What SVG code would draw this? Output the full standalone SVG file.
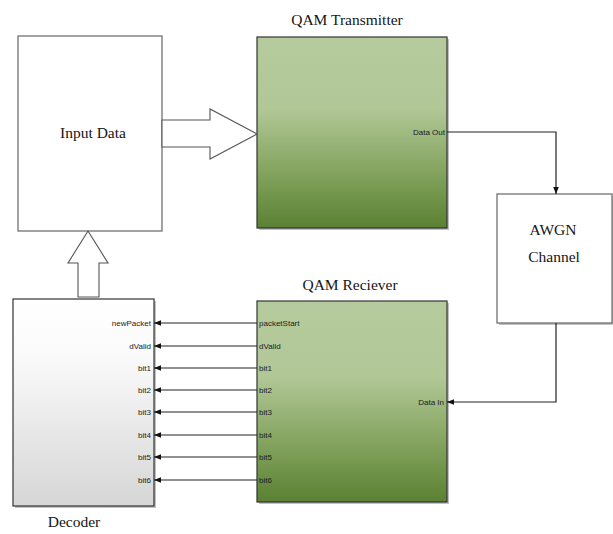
<svg xmlns="http://www.w3.org/2000/svg" width="613" height="534" viewBox="0 0 613 534">
  <defs>
    <linearGradient id="green" x1="0" y1="0" x2="0" y2="1">
      <stop offset="0" stop-color="#b6cb9d"/>
      <stop offset="0.38" stop-color="#b1c796"/>
      <stop offset="0.7" stop-color="#84a45f"/>
      <stop offset="1" stop-color="#5a8133"/>
    </linearGradient>
    <linearGradient id="grey" x1="0" y1="0" x2="0" y2="1">
      <stop offset="0" stop-color="#ffffff"/>
      <stop offset="0.25" stop-color="#fbfbfb"/>
      <stop offset="1" stop-color="#d6d6d6"/>
    </linearGradient>
    <marker id="arrDown" viewBox="0 0 10 10" refX="10" refY="5" markerWidth="7" markerHeight="7" orient="auto" markerUnits="userSpaceOnUse">
      <path d="M0,1 L10,5 L0,9 z" fill="#111"/>
    </marker>
  </defs>
  <style>
    .title { font-family: "Liberation Serif", "Times New Roman", serif; font-size: 15.5px; fill: #151515; }
    .port { font-family: "Liberation Sans", Arial, sans-serif; font-size: 8px; fill: #1a1a1a; }
    .plain { fill: #fff; stroke: #666; stroke-width: 1.2; }
    .block { stroke: #333; stroke-width: 1.2; }
    .shadow { fill: #9a9a9a; opacity: 0.6; }
    .wire { stroke: #222; stroke-width: 1.2; fill: none; }
    .fat { fill: #fff; stroke: #555; stroke-width: 1.1; }
  </style>

  <rect width="613" height="534" fill="#fff"/>

  <!-- Input Data source -->
  <g id="input-data">
    <rect class="plain" x="18" y="36" width="144" height="195"/>
    <text class="title" x="93" y="138" text-anchor="middle">Input Data</text>
  </g>

  <!-- Transmitter block -->
  <g id="qam-transmitter">
    <text class="title" x="347" y="25" text-anchor="middle">QAM Transmitter</text>
    <rect class="shadow" x="259" y="39" width="190" height="191"/>
    <rect class="block" x="257" y="37" width="190" height="191" fill="url(#green)"/>
    <text class="port" x="445" y="135" text-anchor="end">Data Out</text>
  </g>

  <!-- Channel model -->
  <g id="awgn-channel">
    <rect class="shadow" x="499" y="196" width="115" height="129"/>
    <rect class="plain" x="497" y="194" width="115" height="129" stroke="#444"/>
    <text class="title" x="553" y="235" text-anchor="middle">AWGN</text>
    <text class="title" x="554" y="262" text-anchor="middle">Channel</text>
  </g>

  <!-- Receiver block -->
  <g id="qam-receiver">
    <text class="title" x="350" y="290" text-anchor="middle">QAM Reciever</text>
    <rect class="shadow" x="259" y="303" width="190" height="201"/>
    <rect class="block" x="257" y="301" width="190" height="201" fill="url(#green)"/>
    <g class="port">
      <text x="259" y="326">packetStart</text>
      <text x="259" y="349">dValid</text>
      <text x="259" y="371">bit1</text>
      <text x="259" y="393">bit2</text>
      <text x="259" y="415">bit3</text>
      <text x="259" y="438">bit4</text>
      <text x="259" y="460">bit5</text>
      <text x="259" y="483">bit6</text>
      <text x="444" y="405" text-anchor="end">Data In</text>
    </g>
  </g>

  <!-- Decoder block -->
  <g id="decoder">
    <rect class="shadow" x="15" y="301" width="141" height="207"/>
    <rect class="block" x="13" y="299" width="141" height="207" fill="url(#grey)"/>
    <g class="port" text-anchor="end">
      <text x="151" y="326">newPacket</text>
      <text x="151" y="349">dValid</text>
      <text x="151" y="371">bit1</text>
      <text x="151" y="393">bit2</text>
      <text x="151" y="415">bit3</text>
      <text x="151" y="438">bit4</text>
      <text x="151" y="460">bit5</text>
      <text x="151" y="483">bit6</text>
    </g>
    <text class="title" x="74" y="527" text-anchor="middle">Decoder</text>
  </g>

  <!-- Connectors -->
  <g id="connectors">
    <polygon class="fat" points="162,120 210,120 210,109 257,134 210,159 210,147 162,147"/>
    <polygon class="fat" points="78,297 78,263 68,263 88,231 108,263 99,263 99,297"/>
    <path class="wire" d="M447,132 H556 V194" marker-end="url(#arrDown)"/>
    <path class="wire" d="M556,323 V402 H447" marker-end="url(#arrDown)"/>
    <g class="wire" marker-end="url(#arrDown)">
      <path d="M257,323 H154"/>
      <path d="M257,346 H154"/>
      <path d="M257,368 H154"/>
      <path d="M257,390 H154"/>
      <path d="M257,412 H154"/>
      <path d="M257,435 H154"/>
      <path d="M257,457 H154"/>
      <path d="M257,480 H154"/>
    </g>
  </g>
</svg>
